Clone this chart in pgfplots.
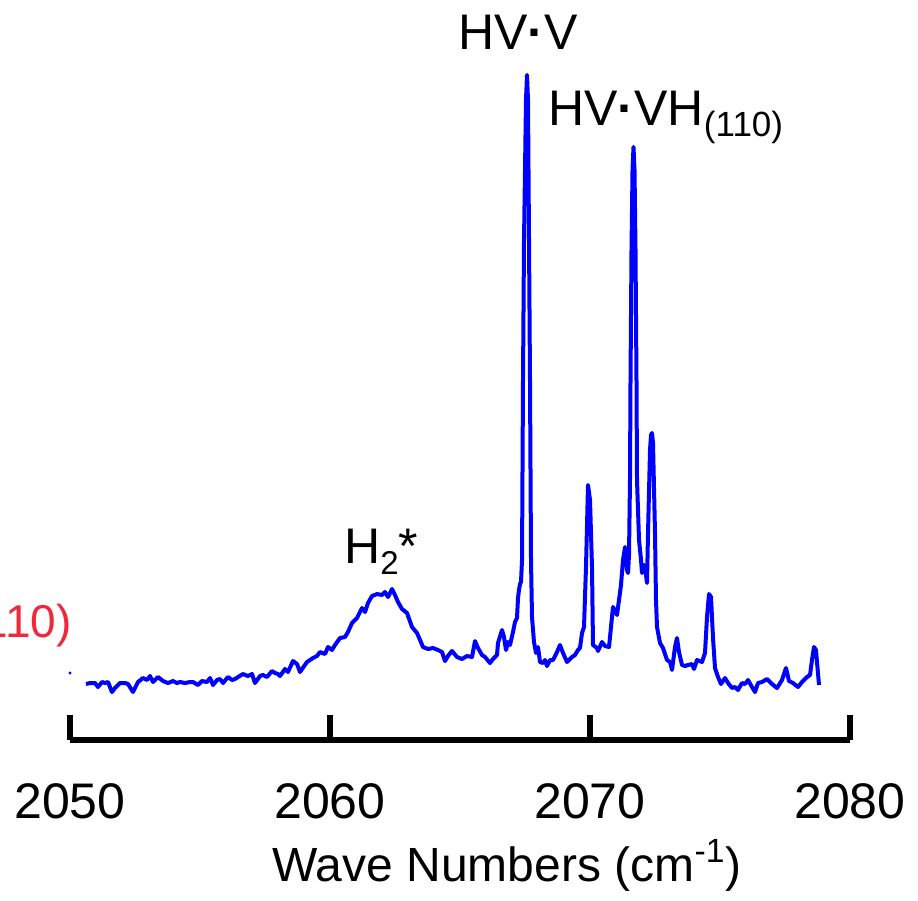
\documentclass[border=0pt]{standalone}
\usepackage{fontspec}
\setmainfont{Liberation Sans}
\usepackage{pgfplots}
\pgfplotsset{compat=1.18}
\definecolor{labelred}{RGB}{240,40,60}

% IR spectrum, intensity in arbitrary units
\pgfplotstableread{
x y
2050.615 56
2050.769 57
2050.962 57
2051.077 53
2051.231 58
2051.346 57
2051.462 58
2051.615 48
2051.731 52
2051.923 57
2052.115 57
2052.231 56
2052.423 48
2052.615 58
2052.808 62
2052.962 60
2053.077 64
2053.192 58
2053.385 63
2053.577 59
2053.769 57
2053.962 59
2054.115 57
2054.231 58
2054.423 57
2054.615 58
2054.731 58
2054.923 55
2055.077 59
2055.269 58
2055.385 62
2055.500 55
2055.654 60
2055.769 61
2055.885 57
2056.077 63
2056.231 60
2056.346 61
2056.462 63
2056.654 66
2056.846 64
2057.000 66
2057.115 57
2057.308 64
2057.423 65
2057.577 63
2057.769 69
2057.885 67
2058.000 66
2058.077 64
2058.269 71
2058.385 68
2058.577 79
2058.731 76
2058.846 68
2059.115 78
2059.231 80
2059.346 82
2059.500 84
2059.615 88
2059.808 86
2059.923 93
2060.077 90
2060.192 95
2060.385 102
2060.577 103
2060.692 108
2060.846 117
2061.038 122
2061.231 132
2061.346 128
2061.462 137
2061.615 144
2061.808 146
2062.000 145
2062.115 148
2062.231 143
2062.385 151
2062.500 145
2062.615 138
2062.769 131
2062.962 127
2063.154 113
2063.346 107
2063.462 100
2063.577 93
2063.769 91
2063.962 92
2064.154 90
2064.308 88
2064.423 79
2064.538 84
2064.692 89
2064.885 83
2065.077 81
2065.269 84
2065.462 83
2065.577 99
2065.692 92
2065.846 85
2065.962 83
2066.154 77
2066.269 81
2066.423 85
2066.462 97
2066.615 110
2066.692 103
2066.769 90
2066.846 98
2066.923 95
2067.038 108
2067.115 118
2067.192 122
2067.231 142
2067.269 150
2067.308 156
2067.346 158
2067.385 180
2067.423 360
2067.462 500
2067.538 640
2067.577 665
2067.615 640
2067.654 500
2067.692 360
2067.731 180
2067.769 123
2067.846 98
2067.923 87
2068.000 93
2068.077 78
2068.192 77
2068.269 80
2068.346 74
2068.462 80
2068.577 80
2068.731 88
2068.846 95
2068.962 87
2069.115 78
2069.308 83
2069.423 85
2069.538 90
2069.615 92
2069.692 107
2069.769 113
2069.846 173
2069.923 255
2070.000 240
2070.077 173
2070.115 95
2070.269 92
2070.308 89
2070.462 98
2070.577 94
2070.731 93
2070.846 123
2070.885 133
2071.038 125
2071.115 140
2071.192 155
2071.269 180
2071.346 193
2071.423 170
2071.462 167
2071.500 185
2071.538 260
2071.558 360
2071.596 490
2071.635 570
2071.673 593
2071.712 570
2071.750 490
2071.788 360
2071.808 260
2071.885 200
2071.962 180
2072.000 167
2072.077 175
2072.154 165
2072.192 157
2072.231 207
2072.308 290
2072.346 305
2072.385 307
2072.423 297
2072.500 207
2072.538 140
2072.577 113
2072.692 97
2072.808 92
2072.962 80
2073.077 78
2073.154 70
2073.269 93
2073.346 102
2073.423 88
2073.538 75
2073.654 74
2073.769 75
2073.923 76
2074.000 71
2074.115 80
2074.308 78
2074.423 87
2074.500 123
2074.577 146
2074.654 143
2074.731 102
2074.808 72
2074.923 63
2075.038 56
2075.192 62
2075.308 57
2075.462 52
2075.577 53
2075.692 50
2075.846 57
2075.962 56
2076.077 60
2076.231 53
2076.346 48
2076.462 57
2076.615 58
2076.808 61
2077.000 56
2077.192 52
2077.385 60
2077.538 72
2077.654 59
2077.808 57
2078.000 53
2078.154 58
2078.346 63
2078.462 65
2078.538 80
2078.615 93
2078.692 90
2078.731 78
2078.808 55
}\spectrum

\begin{document}
\fontsize{25}{30}\selectfont
\begin{tikzpicture}
\begin{axis}[
  scale only axis,
  width=390pt, height=370pt,
  xmin=2050, xmax=2080, ymin=0, ymax=740,
  axis x line=bottom, axis y line=none,
  x axis line style={-, line width=2.6pt},
  xtick={2050,2060,2070,2080},
  tick align=inside,
  major tick length=12.5pt,
  every tick/.style={black, line width=2.6pt},
  /pgf/number format/assume math mode=true,
  /pgf/number format/1000 sep={},
  xticklabel style={anchor=base, inner sep=0pt, yshift=-39pt},
  xlabel={Wave Numbers (cm\textsuperscript{-1})},
  xlabel style={at={(axis description cs:0.5,0)}, anchor=base, inner sep=0pt,
    yshift=-70.5pt, xshift=23.5pt, font=\fontsize{24}{29}\selectfont},
  clip=false,
]
\addplot[blue, line width=2pt, line join=round] table[x=x, y=y] {\spectrum};
\addplot[blue, only marks, mark=*, mark size=0.5pt] coordinates {(2050.0,67)};

\node[anchor=base, inner sep=0pt] at (axis cs:2067.231,690) {HV{\bfseries·}V};
\node[anchor=base west, inner sep=0pt] at (axis cs:2068.385,614)
  {HV{\bfseries·}VH\raisebox{-5.5pt}{\fontsize{17.5}{17.5}\selectfont(110)}};
\node[anchor=base west, inner sep=0pt] at (axis cs:2060.538,177)
  {H\raisebox{-5.5pt}{\fontsize{16.5}{16.5}\selectfont 2}*};
\node[anchor=base east, inner sep=0pt, text=labelred, font=\fontsize{23}{28}\selectfont]
  at (axis cs:2050.077,103) {(110)};

\coordinate (bl) at (axis cs:2047.3077,-160);
\coordinate (tr) at (axis cs:2082.6154,740);
\end{axis}
\pgfresetboundingbox
\path[use as bounding box] (bl) rectangle (tr);
\end{tikzpicture}
\end{document}
